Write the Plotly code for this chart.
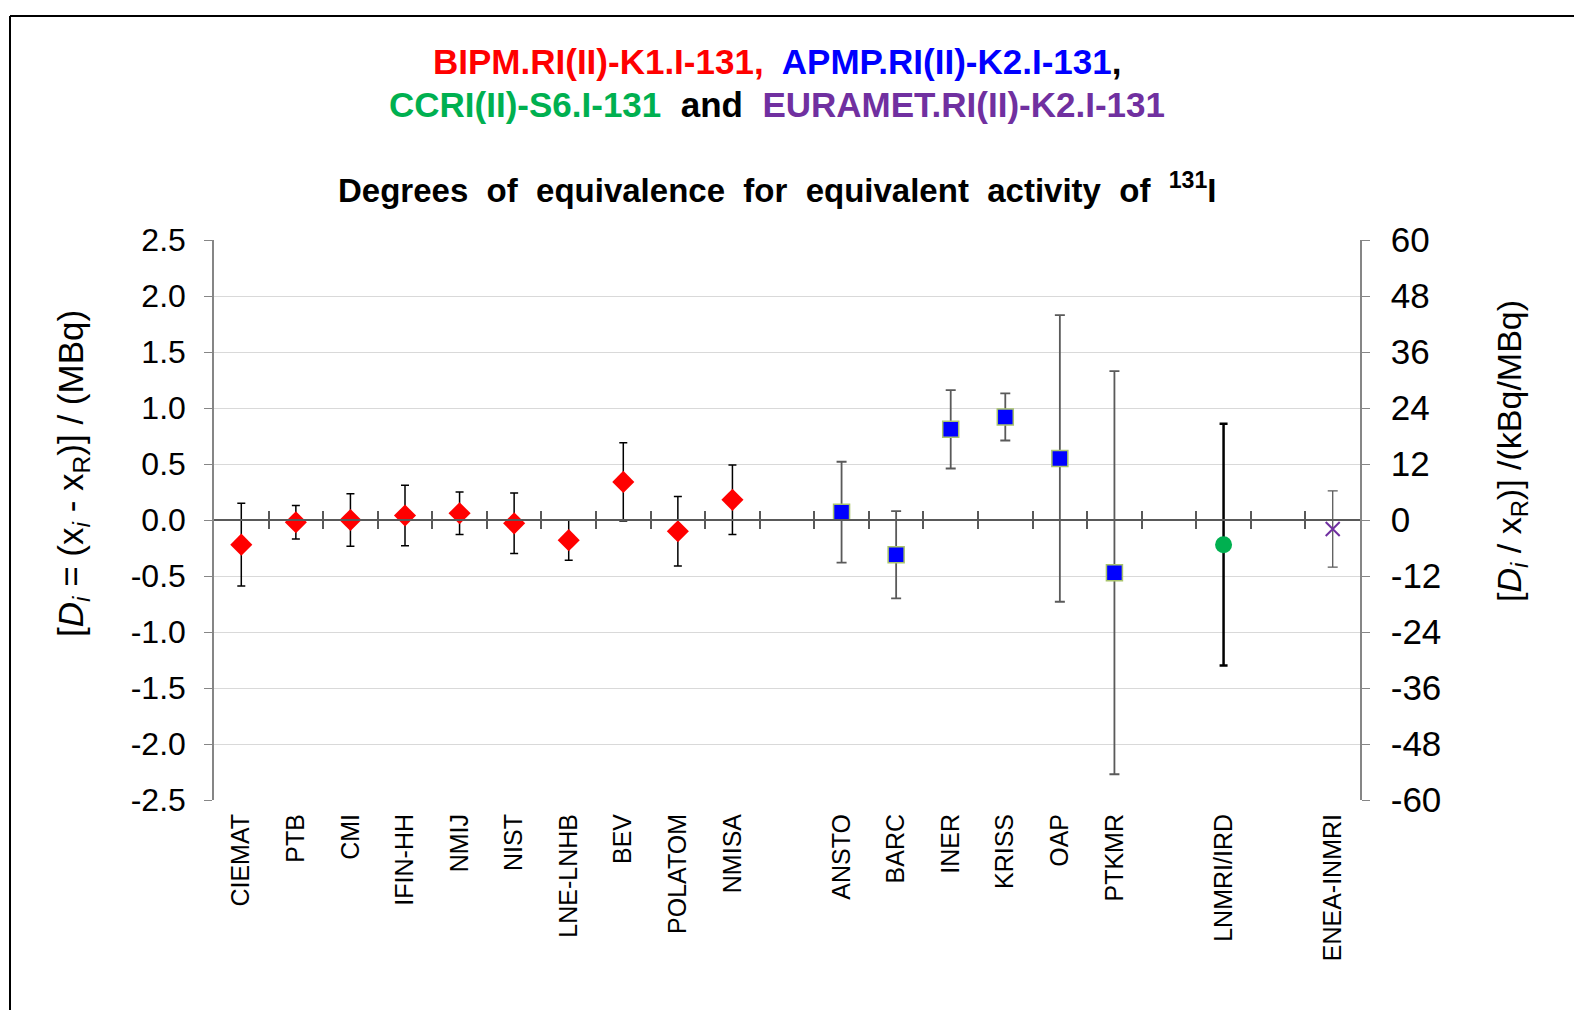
import plotly.graph_objects as go

# categories in plot order, blank slots are the gaps between comparisons
CATEGORIES = ["CIEMAT", "PTB", "CMI", "IFIN-HH", "NMIJ", "NIST", "LNE-LNHB", "BEV", "POLATOM", "NMISA",
              " ",
              "ANSTO", "BARC", "INER", "KRISS", "OAP", "PTKMR",
              "  ",
              "LNMRI/IRD",
              "   ",
              "ENEA-INMRI"]

# BIPM.RI(II)-K1.I-131
bipm_labs = ["CIEMAT", "PTB", "CMI", "IFIN-HH", "NMIJ", "NIST", "LNE-LNHB", "BEV", "POLATOM", "NMISA"]
bipm_d = [-0.22, -0.02, 0.00, 0.04, 0.06, -0.03, -0.18, 0.34, -0.10, 0.18]
bipm_u = [0.37, 0.15, 0.235, 0.27, 0.19, 0.27, 0.18, 0.35, 0.31, 0.31]

# APMP.RI(II)-K2.I-131
apmp_labs = ["ANSTO", "BARC", "INER", "KRISS", "OAP", "PTKMR"]
apmp_d = [0.07, -0.31, 0.81, 0.92, 0.55, -0.47]
apmp_u = [0.45, 0.39, 0.35, 0.21, 1.28, 1.80]

# CCRI(II)-S6.I-131
ccri_labs = ["LNMRI/IRD"]
ccri_d = [-0.22]
ccri_u = [1.08]

# EURAMET.RI(II)-K2.I-131
eura_labs = ["ENEA-INMRI"]
eura_d = [-0.08]
eura_u = [0.34]

# axis ticks
left_ticks = [-2.5, -2.0, -1.5, -1.0, -0.5, 0.0, 0.5, 1.0, 1.5, 2.0, 2.5]
right_ticks = [-60, -48, -36, -24, -12, 0, 12, 24, 36, 48, 60]

RED = "#ff0000"; BLUE = "#0000ff"; GREEN = "#00b050"; PURPLE = "#7030a0"
FONT = "Liberation Sans, Arial, sans-serif"

W, H = 1582, 1010
OFF = 8  # page body margin
# plot area in page pixels
P_L, P_R, P_T, P_B = 214, 1360, 240, 800
ML, MT = P_L - OFF, P_T - OFF
MR, MB = W - (P_R - OFF), H - (P_B - OFF)
PW, PH = P_R - P_L, P_B - P_T

def px(x):  # page pixel -> paper x
    return (x - P_L) / PW

def py(y):  # page pixel -> paper y
    return (P_B - y) / PH

fig = go.Figure()
fig.add_trace(go.Scatter(x=bipm_labs, y=bipm_d, mode="markers", name="BIPM",
    marker=dict(symbol="diamond", size=17, color=RED),
    error_y=dict(type="data", array=bipm_u, color="black", thickness=1.5, width=4)))
fig.add_trace(go.Scatter(x=apmp_labs, y=apmp_d, mode="markers", name="APMP",
    marker=dict(symbol="square", size=16, color=BLUE, line=dict(color="#a9c46c", width=1.5)),
    error_y=dict(type="data", array=apmp_u, color="#5a5a5a", thickness=1.8, width=5)))
fig.add_trace(go.Scatter(x=ccri_labs, y=ccri_d, mode="markers", name="CCRI",
    marker=dict(symbol="circle", size=17, color=GREEN),
    error_y=dict(type="data", array=ccri_u, color="black", thickness=2.5, width=4)))
fig.add_trace(go.Scatter(x=eura_labs, y=eura_d, mode="markers", name="EURAMET",
    marker=dict(symbol="x-thin-open", size=14, color=PURPLE, line=dict(color=PURPLE, width=2)),
    error_y=dict(type="data", array=eura_u, color="#5a5a5a", thickness=1.3, width=5)))

# empty traces so the overlay axes get drawn
fig.add_trace(go.Scatter(x=[], y=[], xaxis="x2", yaxis="y", showlegend=False, hoverinfo="skip"))
fig.add_trace(go.Scatter(x=[], y=[], xaxis="x3", yaxis="y", showlegend=False, hoverinfo="skip"))
fig.add_trace(go.Scatter(x=[], y=[], xaxis="x", yaxis="y2", showlegend=False, hoverinfo="skip"))

n = len(CATEGORIES)
bounds = [i + 0.5 for i in range(n - 1)]
zero_axis = dict(overlaying="x", anchor="free", position=0.5, type="linear",
                 range=[-0.5, n - 0.5], tickvals=bounds, showticklabels=False,
                 showline=True, linecolor="#595959", linewidth=1.5, tickcolor="#595959",
                 tickwidth=1.5, ticklen=8, showgrid=False, zeroline=False)

fig.update_layout(
    width=W, height=H, margin=dict(l=ML, r=MR, t=MT, b=MB),
    paper_bgcolor="white", plot_bgcolor="white", showlegend=False,
    font=dict(family=FONT, color="black"),
    xaxis=dict(type="category", categoryorder="array", categoryarray=CATEGORIES,
               range=[-0.5, n - 0.5], tickangle=-90, ticks="", showline=False, showgrid=False,
               tickfont=dict(size=25, color="black"), ticklabelstandoff=8),
    xaxis2=dict(zero_axis, ticks="outside"),
    xaxis3=dict(zero_axis, ticks="inside"),
    yaxis=dict(range=[-2.5, 2.5], tickvals=left_ticks, ticktext=[f"{v:.1f}" for v in left_ticks],
               showgrid=True, gridcolor="#d9d9d9",
               gridwidth=1, zeroline=False, showline=True, linecolor="#868686", linewidth=1.5,
               ticks="outside", ticklen=8, tickcolor="#868686", tickfont=dict(size=32),
               ticklabelstandoff=12),
    yaxis2=dict(overlaying="y", side="right", anchor="x", range=[-60, 60],
                tickvals=right_ticks, ticktext=[str(v) for v in right_ticks],
                showgrid=False, zeroline=False, showline=True, linecolor="#868686", linewidth=1.5,
                ticks="outside", ticklen=8, tickcolor="#868686", tickfont=dict(size=35),
                ticklabelstandoff=14),
)

# page frame
fig.add_shape(type="line", xref="paper", yref="paper", x0=px(10), x1=px(W + 20), y0=py(16), y1=py(16),
              line=dict(color="black", width=2))
fig.add_shape(type="line", xref="paper", yref="paper", x0=px(10), x1=px(10), y0=py(16), y1=py(H + 20),
              line=dict(color="black", width=2))

line1 = (f"<span style='color:{RED}'>BIPM.RI(II)-K1.I-131,</span>  "
         f"<span style='color:{BLUE}'>APMP.RI(II)-K2.I-131</span>,")
line2 = (f"<span style='color:{GREEN}'>CCRI(II)-S6.I-131</span>  and  "
         f"<span style='color:{PURPLE}'>EURAMET.RI(II)-K2.I-131</span>")
for txt, yy in [(line1, 61), (line2, 104)]:
    fig.add_annotation(text=f"<b>{txt}</b>", xref="paper", yref="paper", x=px(777), y=py(yy),
                       showarrow=False, font=dict(size=35, family=FONT), xanchor="center", yanchor="middle")
fig.add_annotation(text="<b>Degrees  of  equivalence  for  equivalent  activity  of  <sup>131</sup>I</b>",
                   xref="paper", yref="paper", x=px(777), y=py(188), showarrow=False,
                   font=dict(size=33, family=FONT), xanchor="center", yanchor="middle")

fig.add_annotation(text="[<i>D</i><sub><i>i</i></sub> = (x<sub><i>i</i></sub> - x<sub>R</sub>)] / (MBq)",
                   xref="paper", yref="paper", x=px(73), y=py(474), textangle=-90, showarrow=False,
                   font=dict(size=35), xanchor="center", yanchor="middle")
fig.add_annotation(text="[<i>D</i><sub><i>i</i></sub> / x<sub>R</sub>)] /(kBq/MBq)",
                   xref="paper", yref="paper", x=px(1511), y=py(451), textangle=-90, showarrow=False,
                   font=dict(size=34), xanchor="center", yanchor="middle")

fig.write_html("out.html")
